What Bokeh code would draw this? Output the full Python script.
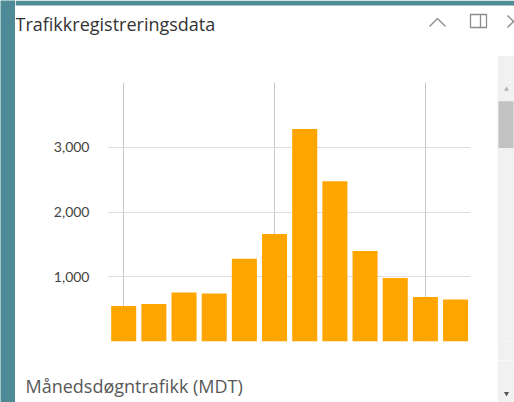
from bokeh.plotting import figure
from bokeh.models import Range1d, FixedTicker, NumeralTickFormatter
from bokeh.layouts import row, column
from bokeh.core.properties import value
from bokeh.embed import file_html
from bokeh.resources import INLINE

months = ["jan", "feb", "mar", "apr", "mai", "jun", "jul", "aug", "sep", "okt", "nov", "des"]
mdt = [547, 578, 757, 742, 1278, 1660, 3283, 2473, 1397, 980, 686, 649]
y_ticks = [1000, 2000, 3000, 4000]
x_grid_ticks = [0, 5, 10]
chart_title = "Trafikkregistreringsdata"
footer_text = "Månedsdøgntrafikk (MDT)"

xs = list(range(len(months)))
FONT = "Open Sans"
TEAL = "#4f8b97"
ICON = "#8c8c8c"


def bare(fig, bg="white"):
    fig.outline_line_color = None
    fig.xaxis.visible = False
    fig.yaxis.visible = False
    fig.xgrid.visible = False
    fig.ygrid.visible = False
    fig.min_border = 0
    fig.border_fill_color = bg
    fig.background_fill_color = bg
    return fig


def pixfig(w, h, bg="white"):
    return bare(figure(width=w, height=h, output_backend="svg", toolbar_location=None,
                       x_range=Range1d(0, w), y_range=Range1d(h, 0)), bg)


# ---- teal page strip on the left ----
strip = pixfig(15, 402, TEAL)

# ---- header (title + window icons), pixel coordinates ----
header = pixfig(499, 55)
header.quad(left=[0], right=[499], top=[0], bottom=[5], color=TEAL, line_color=None)
header.text(x=[0], y=[23], text=[chart_title], text_font=value(FONT), text_font_size="18px",
            text_color="#333333", text_baseline="middle", text_align="left")
# chevron icon
header.line(x=[414, 422, 430], y=[26, 18, 26], line_color=ICON, line_width=1.4)
# dock icon
header.quad(left=[455], right=[471], top=[14], bottom=[27], fill_color=None,
            line_color=ICON, line_width=1.3)
header.segment(x0=[465], y0=[14], x1=[465], y1=[27], line_color=ICON, line_width=1.3)
# close icon (cut at the edge)
header.segment(x0=[492, 492], y0=[15, 27], x1=[504, 504], y1=[27, 15],
               line_color=ICON, line_width=1.4)

# ---- main chart ----
p = figure(width=482, height=305, output_backend="svg", toolbar_location=None,
           x_range=Range1d(-0.537, 11.495), y_range=Range1d(0, 4000),
           min_border_left=92, min_border_right=27, min_border_top=27, min_border_bottom=19)
p.outline_line_color = None
p.background_fill_color = "white"
p.border_fill_color = "white"

p.vbar(x=xs, top=mdt, width=0.83, color="#ffa500", line_color=None)

p.xaxis.visible = False
p.xgrid.ticker = FixedTicker(ticks=x_grid_ticks)
p.xgrid.grid_line_color = "#c8c4cc"
p.xgrid.grid_line_width = 1

p.yaxis.ticker = FixedTicker(ticks=y_ticks)
p.yaxis.formatter = NumeralTickFormatter(format="0,0")
p.yaxis.major_label_overrides = {4000: ""}
p.yaxis.axis_line_color = None
p.yaxis.major_tick_line_color = None
p.yaxis.minor_tick_line_color = None
p.yaxis.major_label_text_font = "Lato"
p.yaxis.major_label_text_font_size = "14px"
p.yaxis.major_label_text_color = "#444444"
p.yaxis.major_label_standoff = 12
p.ygrid.grid_line_color = "#dddddd"

# ---- footer ----
footer = pixfig(482, 42)
footer.text(x=[10], y=[25], text=[footer_text], text_font=value(FONT), text_font_size="18px",
            text_color="#585858", text_baseline="middle", text_align="left")

# ---- scrollbar (two parts) ----
sb_top = pixfig(17, 305, "#f1f1f1")
sb_top.quad(left=[1], right=[16], top=[22], bottom=[77], color="#c2c2c2", line_color=None)
sb_top.scatter(x=[9], y=[8], marker="triangle", size=5, color="#b0b0b0", line_color=None)
sb_bot = pixfig(17, 42, "#f1f1f1")
sb_bot.scatter(x=[9], y=[33], marker="inverted_triangle", size=5, color="#555555", line_color=None)

layout = row(strip,
             column(header, row(p, sb_top, spacing=0), row(footer, sb_bot, spacing=0), spacing=0),
             spacing=0)

open("out.html", "w").write(file_html(layout, INLINE))
